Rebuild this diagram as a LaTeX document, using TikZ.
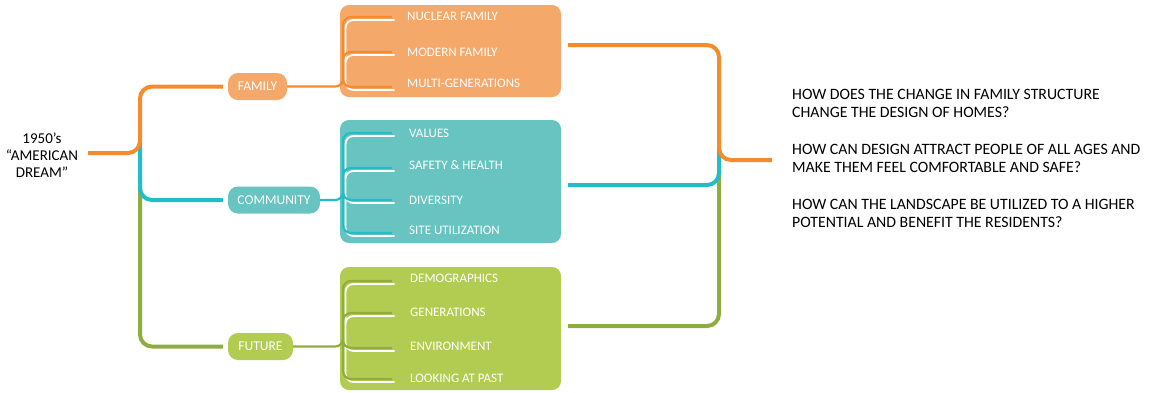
\documentclass[tikz,border=0pt]{standalone}
\usepackage{fontspec}
\setmainfont{Carlito}
\definecolor{oLine}{HTML}{F68B2C}
\definecolor{oFill}{HTML}{F4A86A}
\definecolor{cLine}{HTML}{22BDC8}
\definecolor{cFill}{HTML}{67C4C1}
\definecolor{gLine}{HTML}{8FAD3E}
\definecolor{gFill}{HTML}{B2CC51}
\begin{document}
\begin{tikzpicture}[x=1pt,y=-1pt,
  mainline/.style={line width=4pt, rounded corners=12pt},
  subline/.style={line width=2.2pt, rounded corners=8pt},
  shadowline/.style={white, line width=1.8pt, rounded corners=8pt, shift={(2.5,3)}},
  itemtext/.style={text=white, font=\fontsize{13}{15}\selectfont, anchor=west, inner sep=0pt},
  labelbox/.style={rounded corners=10pt, text=white, font=\fontsize{13.5}{15}\selectfont, inner sep=0pt, minimum height=27pt},
  bigbox/.style={rounded corners=9pt, inner sep=0pt, minimum width=221pt},
  question/.style={anchor=north west, align=left, inner sep=0pt, font=\fontsize{15.8}{18.5}\selectfont}
]
\useasboundingbox (0,0) rectangle (1158,392);

% big boxes
\node[bigbox, fill=oFill, minimum height=92pt] (fbox) at (450.5,51) {};
\node[bigbox, fill=cFill, minimum height=123pt] (cbox) at (450.5,181.5) {};
\node[bigbox, fill=gFill, minimum height=123pt] (gbox) at (450.5,328.5) {};

% label boxes
\node[labelbox, fill=oFill, minimum width=59pt] (fam) at (257.5,86.5) {FAMILY};
\node[labelbox, fill=cFill, minimum width=92pt] (com) at (274,200) {COMMUNITY};
\node[labelbox, fill=gFill, minimum width=65pt] (fut) at (260.5,346.5) {FUTURE};

% source
\node[anchor=north, align=center, inner sep=0pt, font=\fontsize{15}{17.2}\selectfont] (src) at (42,132.5) {1950’s\\“AMERICAN\\DREAM”};
\coordinate (s) at (88,153);

% trunk
\draw[mainline, gLine] (140,177) -- (140,346.5) -- ([xshift=-5pt]fut.west);
\draw[mainline, cLine] (140,140) -- (140,200) -- ([xshift=-5pt]com.west);
\draw[mainline, oLine] (s) -- (140,153) -- (140,86.5) -- ([xshift=-5pt]fam.west);

% family branches
\draw[subline, oLine] (fam.east) -- ++(56,0) -- ++(0,-10);
\draw[shadowline] (392,17) -- (343,17) -- (343,87) -- (392,87) (392,52) -- (343,52) -- (343,62);
\draw[subline, oLine] (392,17) -- (343,17) -- (343,87) -- (392,87) (392,52) -- (343,52) -- (343,62);
\node[itemtext] (n1) at (407,16) {NUCLEAR FAMILY};
\node[itemtext] (n2) at (407,52) {MODERN FAMILY};
\node[itemtext] (n3) at (407,83) {MULTI-GENERATIONS};

% community branches
\draw[subline, cLine] (com.east) -- ++(23,0) -- ++(0,-10);
\draw[shadowline] (392,133) -- (343,133) -- (343,233) -- (392,233) (392,168) -- (343,168) -- (343,178) (343,190) -- (343,200) -- (392,200);
\draw[subline, cLine] (392,133) -- (343,133) -- (343,233) -- (392,233) (392,168) -- (343,168) -- (343,178) (343,190) -- (343,200) -- (392,200);
\node[itemtext] (c1) at (409,133) {VALUES};
\node[itemtext] (c2) at (409,165) {SAFETY \& HEALTH};
\node[itemtext] (c3) at (409,200) {DIVERSITY};
\node[itemtext] (c4) at (409,230) {SITE UTILIZATION};

% future branches
\draw[subline, gLine] (fut.east) -- ++(50,0) -- ++(0,-10);
\draw[shadowline] (392,281) -- (343,281) -- (343,379) -- (392,379) (392,313) -- (343,313) -- (343,323) (343,338) -- (343,348) -- (392,348);
\draw[subline, gLine] (392,281) -- (343,281) -- (343,379) -- (392,379) (392,313) -- (343,313) -- (343,323) (343,338) -- (343,348) -- (392,348);
\node[itemtext] (g1) at (410,278) {DEMOGRAPHICS};
\node[itemtext] (g2) at (410,312) {GENERATIONS};
\node[itemtext] (g3) at (410,346) {ENVIRONMENT};
\node[itemtext] (g4) at (410,378) {LOOKING AT PAST};

% questions
\node[question] (q1) at (792,89) {HOW DOES THE CHANGE IN FAMILY STRUCTURE\\CHANGE THE DESIGN OF HOMES?};
\node[question] (q2) at (792,144) {HOW CAN DESIGN ATTRACT PEOPLE OF ALL AGES AND\\MAKE THEM FEEL COMFORTABLE AND SAFE?};
\node[question] (q3) at (792,199) {HOW CAN THE LANDSCAPE BE UTILIZED TO A HIGHER\\POTENTIAL AND BENEFIT THE RESIDENTS?};
\coordinate (qin) at (772,160);

% right side connectors
\draw[mainline, gLine] ([xshift=7pt,yshift=2.5pt]gbox.east) -- (719,326) -- (719,170);
\draw[mainline, cLine] ([xshift=7pt,yshift=-3.5pt]cbox.east) -- (719,185) -- (719,140);
\draw[mainline, oLine] ([xshift=7pt,yshift=6pt]fbox.east) -- (719,45) -- (719,160) -- (qin);
\end{tikzpicture}
\end{document}
